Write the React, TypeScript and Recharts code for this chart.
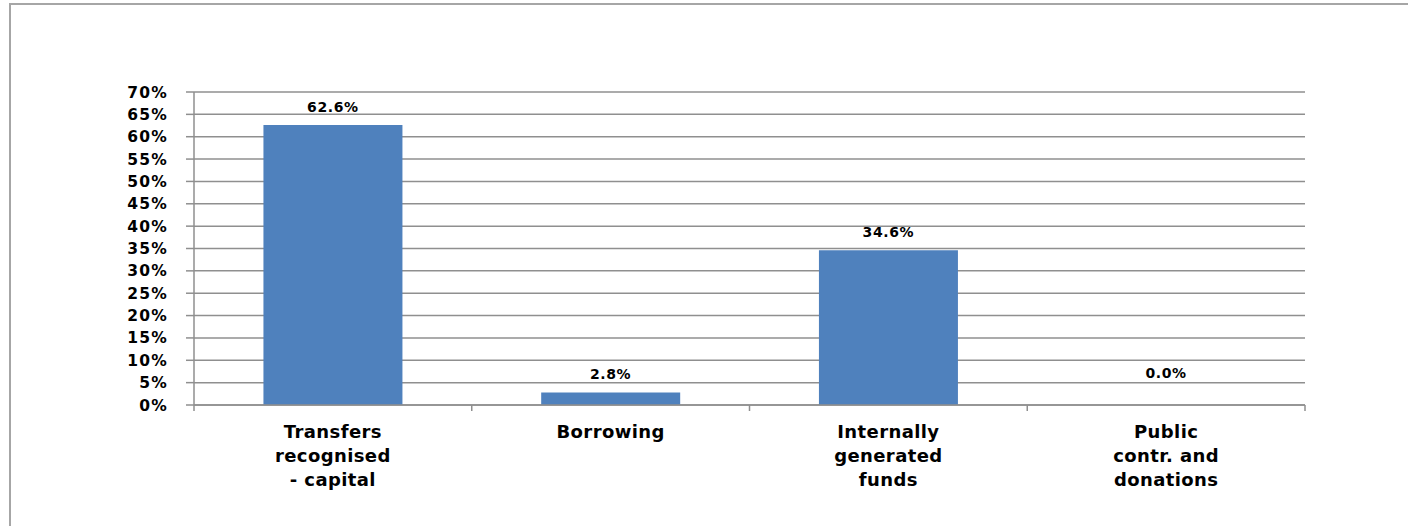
import React from "react";
import { ComposedChart, Bar, Line, XAxis, YAxis, CartesianGrid, LabelList } from "recharts";

const categories: string[][] = [
  ["Transfers", "recognised", "- capital"],
  ["Borrowing"],
  ["Internally", "generated", "funds"],
  ["Public", "contr. and", "donations"],
];
const shares: number[] = [62.6, 2.8, 34.6, 0.0];
const yTicks: number[] = [0, 5, 10, 15, 20, 25, 30, 35, 40, 45, 50, 55, 60, 65, 70];

const data = categories.map((lines, i) => ({
  name: lines.join(" "),
  value: shares[i],
}));

const FONT = "'DejaVu Sans', Verdana, sans-serif";
const GRID = "#8f8f8f";

const CategoryTick = (props: any) => {
  const { x, y, payload, index } = props;
  const lines = categories[index] || [String(payload.value)];
  const off = payload && typeof payload.offset === "number" ? payload.offset : 0;
  return (
    <g>
      <line x1={x - off} x2={x - off} y1={y - 8} y2={y - 2} stroke={GRID} strokeWidth={1.5} />
      {index === categories.length - 1 && (
        <line x1={x + off} x2={x + off} y1={y - 8} y2={y - 2} stroke={GRID} strokeWidth={1.5} />
      )}
      <text
        x={x}
        y={y + 25}
        textAnchor="middle"
        fontFamily={FONT}
        fontWeight="bold"
        fontSize={18}
        letterSpacing={0.4}
        fill="#000"
      >
        {lines.map((l, i) => (
          <tspan key={i} x={x} dy={i === 0 ? 0 : 24}>
            {l}
          </tspan>
        ))}
      </text>
    </g>
  );
};

const ValueLabel = (props: any) => {
  const { x, y, value } = props;
  if (x == null || y == null) return null;
  const lift = Number(value) === 0 ? 27 : 13;
  return (
    <text
      x={x}
      y={y - lift}
      textAnchor="middle"
      fontFamily={FONT}
      fontWeight="bold"
      fontSize={14}
      letterSpacing={0.6}
      fill="#000"
    >
      {`${Number(value).toFixed(1)}%`}
    </text>
  );
};

export default function App() {
  return (
    <div
      style={{
        position: "absolute",
        left: 0,
        top: 0,
        width: 1408,
        height: 526,
        overflow: "hidden",
        background: "#fff",
      }}
    >
      <div
        style={{
          position: "absolute",
          left: 9,
          top: 3,
          width: 1500,
          height: 700,
          border: "2px solid #a6a6a6",
          boxSizing: "border-box",
        }}
      />
      <div style={{ position: "absolute", left: 0, top: 0 }}>
        <ComposedChart
          width={1408}
          height={526}
          data={data}
          margin={{ top: 92, right: 103, bottom: 0, left: 0 }}
          barCategoryGap="25%"
        >
          <CartesianGrid vertical={false} stroke={GRID} strokeWidth={1.5} />
          <XAxis
            dataKey="name"
            height={121}
            axisLine={{ stroke: GRID, strokeWidth: 1.5 }}
            tickLine={false}
            interval={0}
            tick={<CategoryTick />}
          />
          <YAxis
            width={194}
            domain={[0, 70]}
            ticks={yTicks}
            interval={0}
            tickFormatter={(v: number) => `${v}%`}
            axisLine={{ stroke: GRID, strokeWidth: 1.5 }}
            tickLine={{ stroke: GRID, strokeWidth: 1.5 }}
            tickSize={8}
            tickMargin={18}
            tick={{
              fontFamily: FONT,
              fontWeight: "bold",
              fontSize: 15.5,
              fill: "#000",
              letterSpacing: 1.2,
            }}
          />
          <Bar dataKey="value" fill="#4f81bd" isAnimationActive={false} />
          <Line
            dataKey="value"
            stroke="none"
            dot={false}
            activeDot={false}
            legendType="none"
            isAnimationActive={false}
          >
            <LabelList dataKey="value" content={<ValueLabel />} />
          </Line>
        </ComposedChart>
      </div>
    </div>
  );
}
